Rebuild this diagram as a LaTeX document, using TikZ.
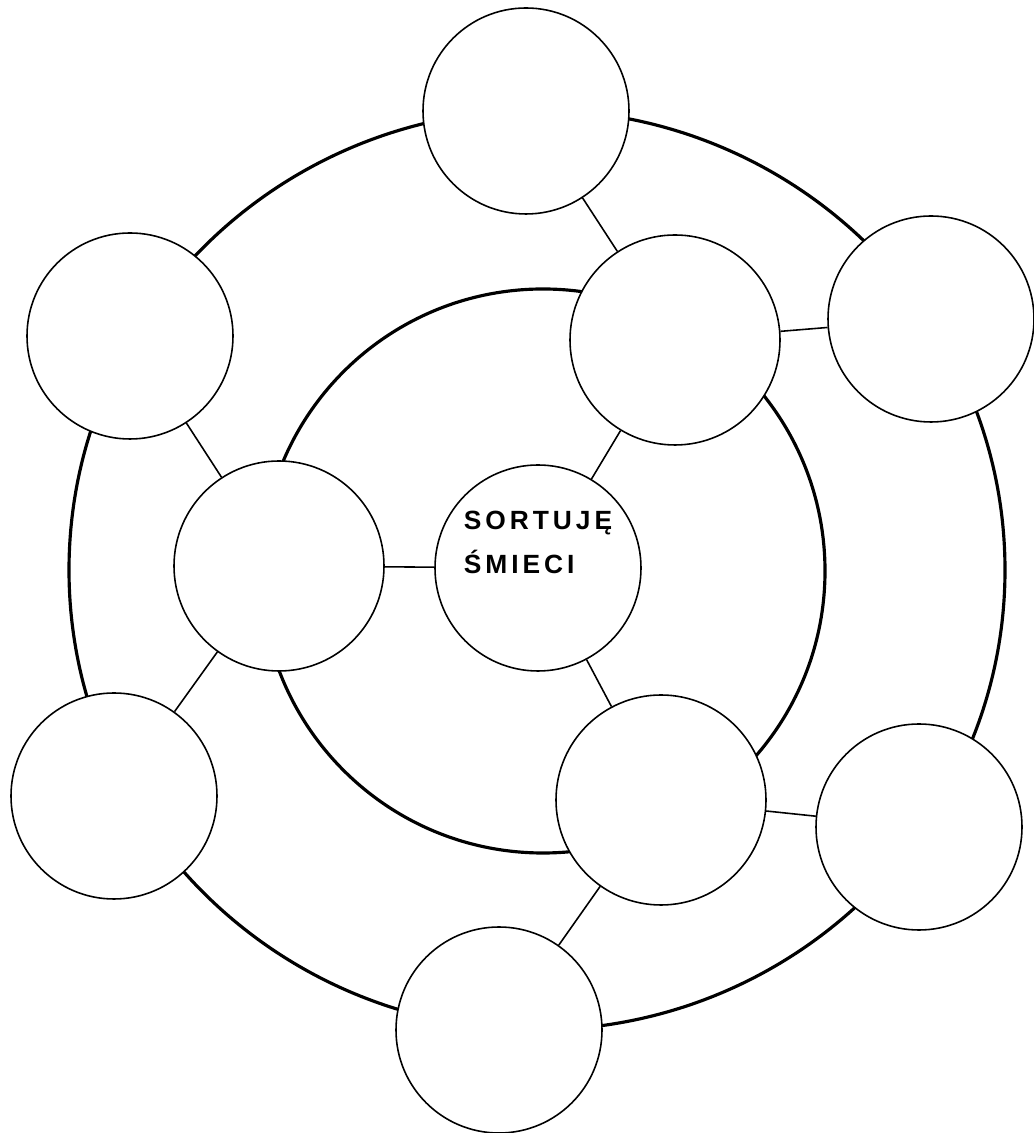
\documentclass[tikz,border=0pt]{standalone}
\usepackage{fontspec}
\newfontfamily\handfont[LetterSpace=15]{Liberation Sans}
\usepackage{tikz}
\usetikzlibrary{positioning, calc}

\begin{document}
\begin{tikzpicture}[
        hub/.style={circle, draw=black, fill=white, line width=0.9pt, minimum size=4.12cm, inner sep=0pt},
        inner/.style={circle, draw=black, fill=white, line width=0.9pt, minimum size=4.2cm, inner sep=0pt},
        outer/.style={circle, draw=black, fill=white, line width=0.9pt, minimum size=4.12cm, inner sep=0pt},
        ring/.style={line width=1.8pt},
        link/.style={line width=0.9pt},
        hand/.style={font=\handfont\bfseries\fontsize{15}{25.5}\selectfont, align=left, inner sep=0pt}
    ]
        \useasboundingbox (0,0) rectangle (20.66,22.66);

        % Rings (behind the circles)
        \draw [ring] (10.74,11.26) ellipse [x radius=9.36, y radius=9.2];
        \draw [ring] (10.86,11.24) circle [radius=5.64];

        % Central circle
        \node (hub) [hub] at (10.76,11.30) {};
        \node (hubtext) [hand] at ([yshift=0.51cm]hub.center) {SORTUJĘ\\ŚMIECI};

        % Inner ring
        \node (innerleft) [inner] at (5.58,11.34) {};
        \node (innertop) [inner] at (13.50,15.86) {};
        \node (innerbottom) [inner] at (13.22,6.66) {};

        % Outer ring
        \node (outertop) [outer] at (10.52,20.44) {};
        \node (outerright) [outer] at (18.62,16.28) {};
        \node (outerlefttop) [outer] at (2.60,15.94) {};
        \node (outerleftbottom) [outer] at (2.28,6.74) {};
        \node (outerrightbottom) [outer] at (18.38,6.12) {};
        \node (outerbottom) [outer] at (9.98,2.06) {};

        % Links - centre
        \draw [link] (hub) -- (innerleft);
        \draw [link] (hub) -- (innertop);
        \draw [link] (hub) -- (innerbottom);

        % Links - inner to outer
        \draw [link] (innerleft) -- (outerlefttop);
        \draw [link] (innerleft) -- (outerleftbottom);
        \draw [link] (innertop) -- (outertop);
        \draw [link] (innertop) -- (outerright);
        \draw [link] (innerbottom) -- (outerrightbottom);
        \draw [link] (innerbottom) -- (outerbottom);
    \end{tikzpicture}
\end{document}
